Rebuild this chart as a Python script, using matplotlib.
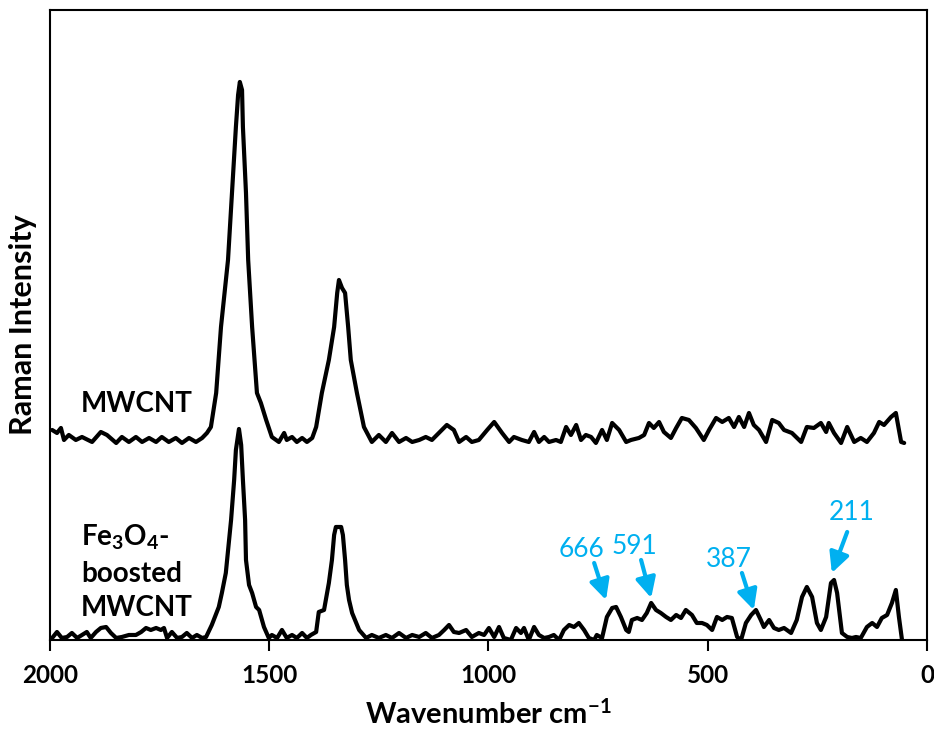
import matplotlib
matplotlib.use("Agg")
import matplotlib.pyplot as plt

plt.rcParams['font.family'] = ['Lato', 'DejaVu Sans']
plt.rcParams['mathtext.fontset'] = 'custom'
plt.rcParams['mathtext.rm'] = 'Lato'
plt.rcParams['mathtext.bf'] = 'Lato:bold'
plt.rcParams['mathtext.default'] = 'bf'

# MWCNT spectrum (offset already included)
mwcnt_wn = [1995, 1984, 1975, 1968, 1957, 1941, 1927, 1904, 1884, 1870, 1849, 1836,
            1820, 1804, 1790, 1774, 1758, 1745, 1729, 1713, 1699, 1683, 1667, 1653,
            1642, 1633, 1621, 1610, 1594, 1585, 1576, 1571, 1567, 1562, 1560, 1553,
            1548, 1539, 1528, 1519, 1507, 1494, 1478, 1466, 1460, 1448, 1437, 1425,
            1414, 1402, 1393, 1380, 1364, 1352, 1345, 1341, 1334, 1327, 1320, 1314,
            1300, 1284, 1266, 1250, 1234, 1220, 1204, 1188, 1174, 1158, 1143, 1129,
            1113, 1095, 1079, 1067, 1051, 1038, 1022, 1003, 987, 969, 953, 942,
            924, 908, 896, 885, 873, 862, 846, 835, 823, 812, 800, 789,
            778, 766, 755, 741, 730, 718, 702, 686, 675, 657, 645, 634,
            623, 611, 600, 584, 572, 559, 543, 527, 509, 497, 481, 467,
            452, 440, 429, 417, 406, 395, 383, 367, 353, 338, 326, 308,
            287, 274, 258, 242, 230, 224, 212, 196, 182, 166, 151, 137,
            121, 109, 98, 82, 71, 59, 52]
mwcnt_int = [210, 207, 212, 200, 205, 200, 203, 198, 208, 205, 197, 203,
             198, 203, 198, 202, 198, 203, 198, 202, 197, 202, 198, 202,
             207, 213, 247, 313, 380, 447, 513, 545, 558, 550, 513, 447,
             380, 313, 247, 237, 220, 203, 198, 207, 200, 203, 198, 202,
             198, 202, 213, 247, 280, 313, 347, 360, 352, 347, 313, 280,
             247, 213, 198, 205, 198, 207, 198, 202, 198, 200, 203, 200,
             207, 215, 210, 198, 203, 198, 200, 210, 218, 207, 198, 203,
             200, 198, 208, 198, 203, 198, 200, 198, 213, 205, 215, 200,
             205, 203, 197, 210, 200, 217, 210, 198, 200, 202, 205, 217,
             212, 218, 208, 202, 212, 222, 220, 212, 200, 210, 222, 218,
             222, 213, 223, 213, 227, 215, 210, 198, 220, 217, 210, 207,
             198, 213, 212, 217, 208, 217, 207, 197, 213, 198, 202, 198,
             207, 218, 215, 223, 227, 198, 197]

# Fe3O4-boosted MWCNT spectrum
fe_wn = [1995, 1984, 1973, 1961, 1950, 1938, 1927, 1916, 1907, 1895, 1884, 1872,
         1861, 1849, 1836, 1820, 1804, 1792, 1781, 1770, 1758, 1747, 1740, 1733,
         1722, 1710, 1699, 1688, 1676, 1665, 1653, 1644, 1631, 1615, 1608, 1599,
         1596, 1587, 1580, 1576, 1569, 1564, 1560, 1555, 1553, 1546, 1539, 1530,
         1523, 1512, 1501, 1494, 1482, 1471, 1460, 1448, 1437, 1425, 1414, 1405,
         1393, 1387, 1375, 1364, 1357, 1352, 1348, 1336, 1332, 1327, 1323, 1318,
         1311, 1295, 1279, 1266, 1250, 1234, 1220, 1204, 1188, 1174, 1158, 1143,
         1129, 1113, 1101, 1090, 1079, 1067, 1051, 1038, 1022, 1010, 999, 987,
         976, 965, 949, 937, 926, 919, 908, 896, 885, 873, 862, 851,
         839, 828, 816, 805, 794, 782, 771, 759, 753, 741, 730, 718,
         709, 698, 686, 680, 673, 661, 650, 639, 629, 618, 607, 595,
         584, 572, 561, 550, 536, 525, 513, 502, 490, 479, 467, 456,
         445, 433, 424, 413, 401, 390, 379, 372, 360, 349, 338, 326,
         310, 297, 285, 274, 262, 251, 242, 230, 219, 212, 205, 194,
         182, 171, 162, 151, 137, 125, 114, 103, 91, 80, 71, 64, 57]
fe_int = [2, 8, 2, 3, 7, 2, 5, 8, 2, 8, 12, 13,
          7, 2, 3, 5, 5, 8, 12, 10, 12, 10, 12, 2,
          8, 2, 3, 7, 2, 5, 2, 3, 15, 33, 47, 67,
          80, 120, 160, 190, 211, 195, 160, 120, 80, 55, 47, 33,
          30, 13, 2, 5, 2, 10, 2, 5, 2, 7, 2, 5,
          8, 28, 30, 57, 80, 105, 113, 113, 105, 80, 55, 40,
          27, 10, 2, 5, 2, 5, 2, 7, 2, 5, 3, 7,
          2, 5, 10, 15, 8, 7, 10, 3, 7, 5, 12, 3,
          13, 2, 0, 12, 7, 12, 0, 13, 5, 2, 3, 5,
          0, 10, 15, 13, 17, 10, 2, 0, 5, 2, 23, 32,
          33, 23, 10, 8, 20, 22, 20, 27, 37, 30, 27, 23,
          20, 25, 22, 30, 25, 17, 17, 15, 10, 23, 20, 23,
          22, 3, 0, 17, 25, 30, 20, 13, 20, 12, 10, 12,
          7, 20, 43, 53, 43, 17, 10, 23, 57, 60, 47, 7,
          3, 2, 3, 2, 13, 17, 13, 22, 25, 37, 50, 23, 0]

# peak labels: text, text position, arrow tail, arrow head
peak_labels = ['666', '591', '387', '211']
label_xy = [(789, 90), (668, 93), (452, 80), (171, 127)]
arrow_tail = [(759, 77), (652, 80), (422, 67), (182, 108)]
arrow_head = [(732, 40), (629, 42), (395, 30), (217, 67)]

blue = '#00B0F0'

fig = plt.figure(figsize=(9.34, 7.33), dpi=100)
ax = fig.add_axes([0.0535, 0.1269, 0.9390, 0.8595])

ax.plot(mwcnt_wn, mwcnt_int, color='black', lw=3, solid_joinstyle='round',
        solid_capstyle='round')
ax.plot(fe_wn, fe_int, color='black', lw=3, solid_joinstyle='round',
        solid_capstyle='round')

for lab, txy, tail, head in zip(peak_labels, label_xy, arrow_tail, arrow_head):
    ax.text(txy[0], txy[1], lab, color=blue, fontsize=19, ha='center', va='center')
    ax.annotate('', xy=head, xytext=tail,
                arrowprops=dict(arrowstyle='-|>,head_length=0.6,head_width=0.3',
                                color=blue, lw=3, mutation_scale=20,
                                shrinkA=0, shrinkB=0))

ax.text(1929, 236, 'MWCNT', fontsize=20, fontweight='bold', ha='left', va='center')
ax.text(1929, 68, 'Fe$_3$O$_4$-\nboosted\nMWCNT', fontsize=20, fontweight='bold',
        ha='left', va='center', linespacing=1.4)

ax.set_xlim(2000, 0)
ax.set_ylim(0, 630)
ax.set_xticks([2000, 1500, 1000, 500, 0])
ax.set_yticks([])
ax.tick_params(axis='x', direction='out', length=8, width=1.5, pad=9, labelsize=17.5)
for lbl in ax.get_xticklabels():
    lbl.set_fontweight('bold')
for s in ax.spines.values():
    s.set_linewidth(1.5)

ax.set_xlabel('Wavenumber cm$^{-1}$', fontsize=21, fontweight='bold', labelpad=9)
ax.set_ylabel('Raman Intensity', fontsize=22, fontweight='bold', labelpad=9)

fig.savefig('out.png', dpi=100)
